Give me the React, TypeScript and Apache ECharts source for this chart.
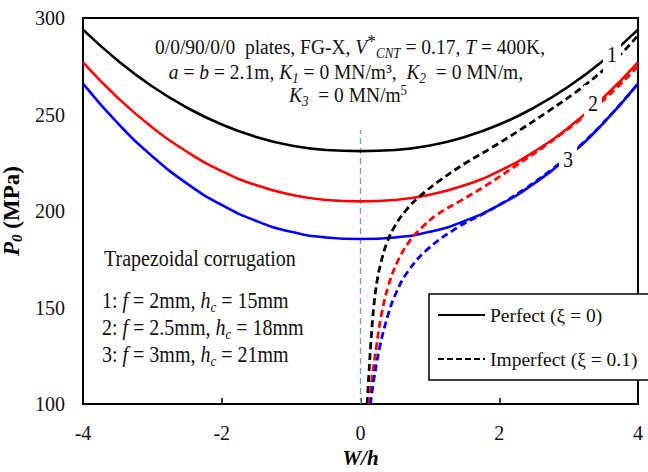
import React, { useEffect, useRef } from "react";
import * as echarts from "echarts";

const xTicks = [-4, -2, 0, 2, 4];
const yTicks = [100, 150, 200, 250, 300];

const wPerfect = [-4, -3.5, -3, -2.5, -2, -1.5, -1, -0.5, 0, 0.5, 1, 1.5, 2, 2.5, 3, 3.5, 4];
const perfect1 = [294, 278, 264.5, 253.5, 244.8, 238.3, 233.9, 231.6, 231, 231.6, 233.9, 238.3, 244.8, 253.5, 264.5, 278, 294];
const perfect2 = [277, 258.7, 243.3, 230.7, 220.7, 213.3, 208.4, 205.7, 205, 205.7, 208.4, 213.3, 220.7, 230.7, 243.3, 258.7, 277];
const perfect3 = [266, 245.5, 228.3, 214.2, 203.1, 194.8, 189.2, 186.3, 185.5, 186.3, 189.2, 194.8, 203.1, 214.2, 228.3, 245.5, 266];

const imperfect1: [number, number][] = [
  [0.096, 100], [0.12, 115], [0.15, 132], [0.19, 150], [0.24, 164], [0.3, 174], [0.38, 183.5],
  [0.5, 192.5], [0.67, 201], [0.85, 207.5], [1.15, 216], [1.5, 224.5], [1.9, 233], [2.3, 242],
  [2.7, 251.5], [3.1, 261.5], [3.5, 273], [3.8, 283], [4, 291],
];
const imperfect2: [number, number][] = [
  [0.12, 100], [0.16, 112], [0.23, 130], [0.3, 146], [0.4, 161], [0.53, 173.5], [0.7, 184],
  [0.9, 192], [1.1, 198], [1.45, 205.5], [1.8, 213], [2.2, 222.5], [2.65, 233.5],
  [3.1, 245.5], [3.55, 259], [4, 275],
];
const imperfect3: [number, number][] = [
  [0.144, 100], [0.19, 112], [0.28, 130], [0.4, 146.5], [0.5, 156.5], [0.67, 168], [0.96, 180],
  [1.4, 191.5], [1.87, 200.5], [2.35, 211], [2.79, 222.5], [3.17, 234], [3.6, 249.5], [4, 266],
];

const refLine: [number, number][] = [[0, 100], [0, 242]];

const colors = ["#000000", "#ff0000", "#0000ff"];
const legendNames = ["Perfect (ξ = 0)", "Imperfect (ξ = 0.1)"];

const FONT = "'Liberation Serif', 'Times New Roman', serif";
const SY = 1.12;

export default function App() {
  const ref = useRef<HTMLDivElement>(null);
  useEffect(() => {
    if (!ref.current) return;
    const chart = echarts.init(ref.current, null, { renderer: "svg" });
    const perfectSets = [perfect1, perfect2, perfect3];
    const impSets = [imperfect1, imperfect2, imperfect3];
    const series: any[] = [];
    perfectSets.forEach((vals, i) => {
      series.push({
        type: "line",
        name: "p" + (i + 1),
        data: wPerfect.map((w, k) => [w, vals[k]]),
        smooth: 0.5,
        symbol: "none",
        color: colors[i],
        lineStyle: { color: colors[i], width: 2.6 },
        z: 3,
      });
    });
    impSets.forEach((vals, i) => {
      series.push({
        type: "line",
        name: "i" + (i + 1),
        data: vals,
        smooth: 0.4,
        symbol: "none",
        color: colors[i],
        lineStyle: { color: colors[i], width: 2.8, type: [7, 4] },
        z: 3,
      });
    });
    series.push({
      type: "line",
      name: "ref",
      data: refLine,
      symbol: "none",
      color: "#6b9bd2",
      lineStyle: { color: "#6b9bd2", width: 1.3, type: [6, 4] },
      z: 2,
    });
    series.push({
      type: "line",
      name: legendNames[0],
      data: [],
      symbol: "none",
      color: "#000",
      lineStyle: { color: "#000", width: 2.6 },
    });
    series.push({
      type: "line",
      name: legendNames[1],
      data: [],
      symbol: "none",
      color: "#000",
      lineStyle: { color: "#000", width: 2.6, type: [6, 3] },
    });

    const mk = (fs: number) => ({
      i: { fontFamily: FONT, fontSize: fs, fontStyle: "italic", fill: "#111" },
      sub: { fontFamily: FONT, fontSize: Math.round(fs * 0.66), fontStyle: "italic", fill: "#111", padding: [11, 0, 0, 0] },
      sup: { fontFamily: FONT, fontSize: Math.round(fs * 0.66), fill: "#111", padding: [0, 0, 9, 0] },
      star: { fontFamily: FONT, fontSize: fs - 2, fill: "#111", padding: [0, 0, 11, 0] },
    });
    const richTop = mk(19.5);
    const richLow = mk(20);

    const txt = (text: string, x: number, y: number, fs: number, align: string, rich: any) => ({
      type: "text",
      z: 50,
      x,
      y,
      scaleY: SY,
      style: {
        x: 0,
        y: 0,
        fontFamily: FONT,
        fontSize: fs,
        fill: "#111",
        align,
        verticalAlign: "middle",
        text,
        rich,
      },
    });

    const numLabel = (t: string, x: number, y: number, h: number) => ({
      type: "text",
      z: 100,
      x,
      y,
      scaleY: SY,
      style: {
        x: 0,
        y: 0,
        text: t,
        align: "center",
        verticalAlign: "middle",
        fontFamily: FONT,
        fontSize: 20,
        fill: "#111",
        backgroundColor: "#ffffff",
        padding: [h, 4, h, 4],
      },
    });

    chart.setOption({
      animation: false,
      backgroundColor: "#ffffff",
      grid: {
        left: 83,
        right: 10,
        top: 18,
        bottom: 68,
        outerBoundsMode: "none",
        containLabel: false,
        show: true,
        borderColor: "#000",
        borderWidth: 2,
      },
      xAxis: {
        type: "value",
        min: -4,
        max: 4,
        interval: 2,
        name: "W/h",
        nameLocation: "middle",
        nameGap: 40,
        nameTextStyle: {
          fontFamily: FONT,
          fontSize: 21,
          fontWeight: "bold",
          fontStyle: "italic",
          color: "#000",
        },
        axisLine: { onZero: false, lineStyle: { color: "#000", width: 2 } },
        axisTick: { show: true, inside: true, length: 6, lineStyle: { color: "#000", width: 1.5 } },
        axisLabel: {
          fontFamily: FONT,
          fontSize: 20,
          color: "#111",
          margin: 19,
          formatter: (v: number) => (xTicks.includes(v) ? String(v) : ""),
        },
        splitLine: { show: false },
      },
      yAxis: {
        type: "value",
        min: 100,
        max: 300,
        interval: 50,
        name: "{b|P}{s|0}{n| (MPa)}",
        nameLocation: "middle",
        nameRotate: 90,
        nameGap: 53,
        nameTextStyle: {
          rich: {
            b: { fontFamily: FONT, fontSize: 23, fontWeight: "bold", fontStyle: "italic", color: "#000" },
            s: { fontFamily: FONT, fontSize: 15, fontWeight: "bold", fontStyle: "italic", color: "#000", padding: [11, 0, 0, 0] },
            n: { fontFamily: FONT, fontSize: 23, fontWeight: "bold", color: "#000" },
          },
        },
        axisLine: { onZero: false, lineStyle: { color: "#000", width: 2 } },
        axisTick: { show: false },
        axisLabel: {
          fontFamily: FONT,
          fontSize: 20,
          color: "#111",
          margin: 18,
          formatter: (v: number) => (yTicks.includes(v) ? String(v) : ""),
        },
        splitLine: { show: false },
      },
      legend: {
        data: legendNames,
        orient: "vertical",
        left: 429,
        top: 294,
        padding: [11, 12, 11, 8],
        itemWidth: 47,
        itemHeight: 14,
        itemGap: 24,
        backgroundColor: "#ffffff",
        borderColor: "#000",
        borderWidth: 1.5,
        borderRadius: 0,
        itemStyle: { opacity: 0 },
        textStyle: { fontFamily: FONT, fontSize: 19.5, color: "#111" },
        z: 20,
      },
      graphic: [
        txt("0/0/90/0/0  plates, FG-X, {i|V}{star|*}{sub|CNT} = 0.17, {i|T} = 400K,", 350, 47, 19.5, "center", richTop),
        txt("{i|a} = {i|b} = 2.1m, {i|K}{sub|1} = 0 MN/m³,  {i|K}{sub|2}  = 0 MN/m,", 346, 72, 19.5, "center", richTop),
        txt("{i|K}{sub|3}  = 0 MN/m{sup|5}", 348, 95, 19.5, "center", richTop),
        txt("Trapezoidal corrugation", 104, 259, 20, "left", richLow),
        txt("1: {i|f} = 2mm, {i|h}{sub|c} = 15mm", 102, 301, 20, "left", richLow),
        txt("2: {i|f} = 2.5mm, {i|h}{sub|c} = 18mm", 102, 328, 20, "left", richLow),
        txt("3: {i|f} = 3mm, {i|h}{sub|c} = 21mm", 102, 355, 20, "left", richLow),
        numLabel("1", 612, 55, 8),
        numLabel("2", 593, 104, 7),
        numLabel("3", 568, 160, 6),
      ],
      series,
    });
    return () => chart.dispose();
  }, []);
  return (
    <div
      ref={ref}
      style={{ position: "absolute", left: 0, top: 0, width: 648, height: 472 }}
    />
  );
}
